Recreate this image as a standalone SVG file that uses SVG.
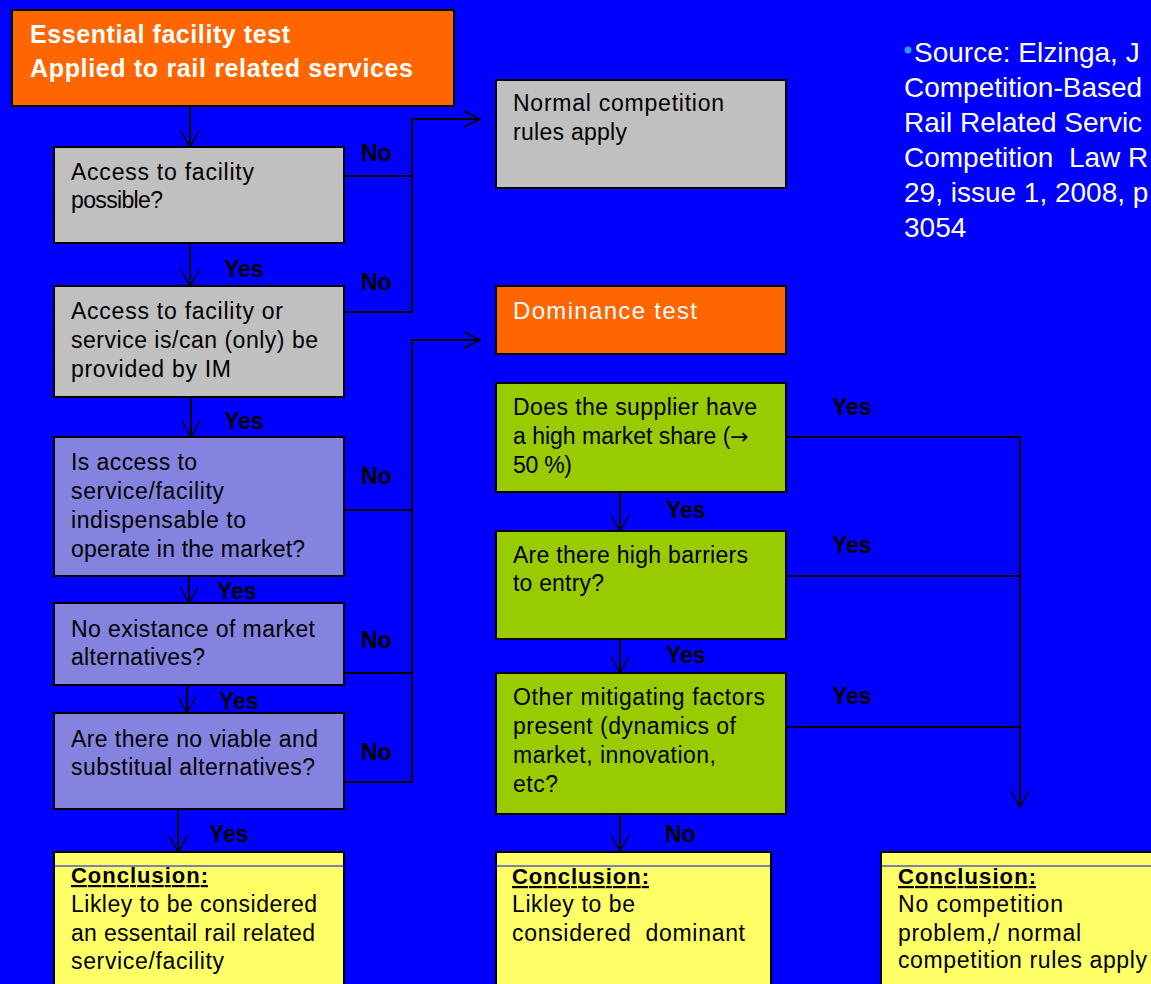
<svg xmlns="http://www.w3.org/2000/svg" width="1151" height="984" viewBox="0 0 1151 984">
<style>
text{font-family:"Liberation Sans",Arial,sans-serif;}
.t{font-size:23px;fill:#000;}
.w{fill:#fff;}
.lb{font-size:23px;font-weight:bold;fill:#000;}
.hd{font-size:22px;font-weight:bold;text-decoration:underline;fill:#000;}
.bx{stroke:#000;stroke-width:2;}
.ln{fill:none;stroke:#000;stroke-width:2;}
.ar{fill:none;stroke:#000;stroke-width:1.5;}
.src{font-size:28px;fill:#fff;}
</style>
<defs>
<path id="ad" d="M-9,-16 L0,0 L9,-16" class="ar"/>
<path id="ar" d="M-16,-8 L0,0 L-16,8" class="ar"/>
</defs>
<rect x="0" y="0" width="1151" height="984" fill="#0000FF"/>

<g id="connectors">
<path class="ln" d="M190,106 V146"/><use href="#ad" x="190" y="147"/>
<path class="ln" d="M190,243 V285"/><use href="#ad" x="190" y="286"/>
<path class="ln" d="M191,397 V436"/><use href="#ad" x="191" y="437"/>
<path class="ln" d="M189,576 V602"/><use href="#ad" x="189" y="603"/>
<path class="ln" d="M187,685 V712"/><use href="#ad" x="187" y="713"/>
<path class="ln" d="M178,809 V851"/><use href="#ad" x="178" y="852"/>
<path class="ln" d="M344,176 H412 M344,312 H412 M412,312 V119 H479"/><use href="#ar" x="480" y="119"/>
<path class="ln" d="M344,510 H412 M344,673 H412 M344,782 H412 M412,782 V340 H479"/><use href="#ar" x="480" y="340"/>
<path class="ln" d="M620,492 V530"/><use href="#ad" x="620" y="531"/>
<path class="ln" d="M620,631 V672"/><use href="#ad" x="620" y="673"/>
<path class="ln" d="M620,814 V850"/><use href="#ad" x="620" y="851"/>
<path class="ln" d="M786,437 H1020 M786,576 H1020 M786,727 H1020 M1020,437 V806"/><use href="#ad" x="1020" y="807"/>
<g id="labels">
<text class="lb" x="361" y="161">No</text>
<text class="lb" x="361" y="290">No</text>
<text class="lb" x="361" y="484">No</text>
<text class="lb" x="361" y="648">No</text>
<text class="lb" x="361" y="760">No</text>
<text class="lb" x="224" y="277">Yes</text>
<text class="lb" x="224" y="429">Yes</text>
<text class="lb" x="217" y="599">Yes</text>
<text class="lb" x="219" y="709">Yes</text>
<text class="lb" x="209" y="842">Yes</text>
<text class="lb" x="666" y="518">Yes</text>
<text class="lb" x="666" y="663">Yes</text>
<text class="lb" x="665" y="842">No</text>
<text class="lb" x="832" y="415">Yes</text>
<text class="lb" x="832" y="553">Yes</text>
<text class="lb" x="832" y="704">Yes</text>
</g>
</g>

<g id="title">
<rect class="bx" x="12" y="10" width="442" height="96" fill="#FF6600"/>
<text class="w" x="30" y="43" font-size="25" font-weight="bold" textLength="260">Essential facility test</text>
<text class="w" x="30" y="77" font-size="25" font-weight="bold" textLength="383">Applied to rail related services</text>
</g>

<g id="q1">
<rect class="bx" x="54" y="147" width="290" height="96" fill="#C0C0C0"/>
<text class="t" x="71" y="180" textLength="183">Access to facility</text>
<text class="t" x="71" y="208" textLength="92">possible?</text>
</g>

<g id="q2">
<rect class="bx" x="54" y="286" width="290" height="111" fill="#C0C0C0"/>
<text class="t" x="71" y="319" textLength="212">Access to facility or</text>
<text class="t" x="71" y="348" textLength="247">service is/can (only) be</text>
<text class="t" x="71" y="377" textLength="160">provided by IM</text>
</g>

<g id="q3">
<rect class="bx" x="54" y="437" width="290" height="139" fill="#8484E0"/>
<text class="t" x="71" y="470" textLength="126">Is access to</text>
<text class="t" x="71" y="499" textLength="153">service/facility</text>
<text class="t" x="71" y="528" textLength="175">indispensable to</text>
<text class="t" x="71" y="557" textLength="234">operate in the market?</text>
</g>

<g id="q4">
<rect class="bx" x="54" y="603" width="290" height="82" fill="#8484E0"/>
<text class="t" x="71" y="637" textLength="244">No existance of market</text>
<text class="t" x="71" y="665" textLength="134">alternatives?</text>
</g>

<g id="q5">
<rect class="bx" x="54" y="713" width="290" height="96" fill="#8484E0"/>
<text class="t" x="71" y="747" textLength="247">Are there no viable and</text>
<text class="t" x="71" y="775" textLength="244">substitual alternatives?</text>
</g>

<g id="c1">
<rect class="bx" x="54" y="852" width="290" height="150" fill="#FFFF66"/>
<line x1="55" y1="866" x2="343" y2="866" stroke="#0000FF" stroke-width="1"/>
<text class="hd" x="71" y="883" textLength="137">Conclusion:</text>
<text class="t" x="71" y="912" textLength="246">Likley to be considered</text>
<text class="t" x="71" y="941" textLength="244">an essentail rail related</text>
<text class="t" x="71" y="969" textLength="153">service/facility</text>
</g>

<g id="normal">
<rect class="bx" x="496" y="80" width="290" height="108" fill="#C0C0C0"/>
<text class="t" x="513" y="111" textLength="211">Normal competition</text>
<text class="t" x="513" y="140" textLength="114">rules apply</text>
</g>

<g id="dominance">
<rect class="bx" x="496" y="286" width="290" height="68" fill="#FF6600"/>
<text class="w" x="513" y="319" font-size="24" textLength="184">Dominance test</text>
</g>

<g id="g1">
<rect class="bx" x="496" y="383" width="290" height="109" fill="#99CC00"/>
<text class="t" x="513" y="415" textLength="244">Does the supplier have</text>
<text class="t" x="513" y="444">a high market share (<tspan font-family="DejaVu Sans, sans-serif" font-size="22">→</tspan></text>
<text class="t" x="513" y="473" textLength="59">50 %)</text>
</g>

<g id="g2">
<rect class="bx" x="496" y="531" width="290" height="108" fill="#99CC00"/>
<text class="t" x="513" y="563" textLength="235">Are there high barriers</text>
<text class="t" x="513" y="591" textLength="91">to entry?</text>
</g>

<g id="g3">
<rect class="bx" x="496" y="673" width="290" height="141" fill="#99CC00"/>
<text class="t" x="513" y="705" textLength="252">Other mitigating factors</text>
<text class="t" x="513" y="734" textLength="223">present (dynamics of</text>
<text class="t" x="513" y="763" textLength="203">market, innovation,</text>
<text class="t" x="513" y="792" textLength="45">etc?</text>
</g>

<g id="c2">
<rect class="bx" x="496" y="852" width="275" height="150" fill="#FFFF66"/>
<line x1="497" y1="866" x2="770" y2="866" stroke="#0000FF" stroke-width="1"/>
<text class="hd" x="512" y="884" textLength="137">Conclusion:</text>
<text class="t" x="512" y="912" textLength="123">Likley to be</text>
<text class="t" x="512" y="941" textLength="233">considered&#160; dominant</text>
</g>

<g id="c3">
<rect class="bx" x="881" y="852" width="290" height="150" fill="#FFFF66"/>
<line x1="882" y1="866" x2="1151" y2="866" stroke="#0000FF" stroke-width="1"/>
<text class="hd" x="898" y="884" textLength="138">Conclusion:</text>
<text class="t" x="898" y="912" textLength="165">No competition</text>
<text class="t" x="898" y="941" textLength="183">problem,/ normal</text>
<text class="t" x="898" y="968" textLength="249">competition rules apply</text>
</g>

<g id="source">
<circle cx="908" cy="50" r="3.5" fill="#3399FF"/>
<text class="src" x="914" y="62">Source: Elzinga, J</text>
<text class="src" x="904" y="97">Competition-Based</text>
<text class="src" x="904" y="132">Rail Related Servic</text>
<text class="src" x="904" y="167">Competition&#160; Law R</text>
<text class="src" x="904" y="202">29, issue 1, 2008, p</text>
<text class="src" x="904" y="237">3054</text>
</g>
</svg>
